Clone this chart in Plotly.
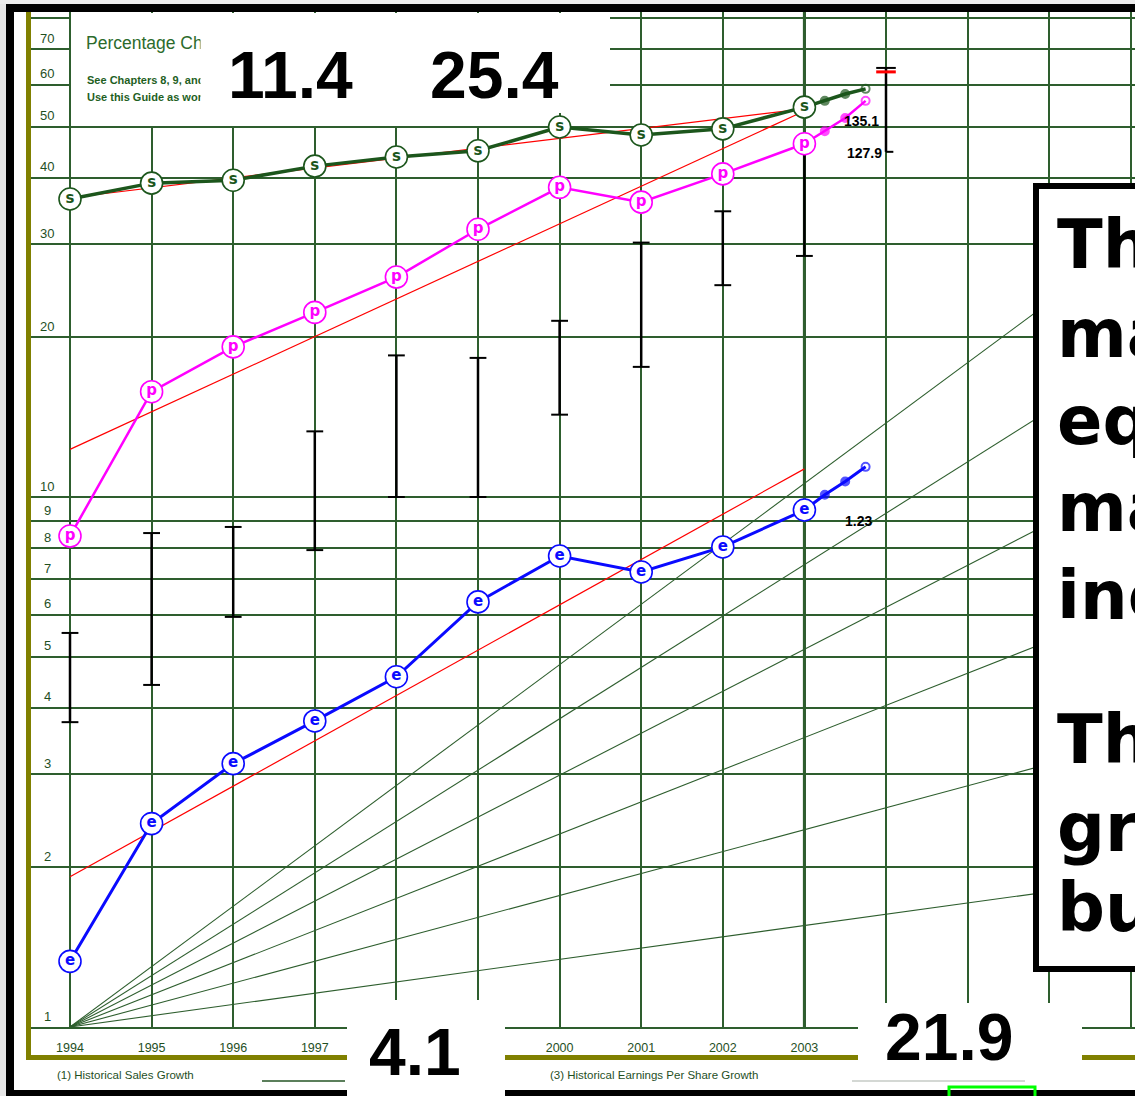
import math
import plotly.graph_objects as go

# ---------------- data ----------------
years = [1994, 1995, 1996, 1997, 1998, 1999, 2000, 2001, 2002, 2003]
sales = [36.5, 39.1, 39.6, 42.1, 43.8, 45.0, 49.9, 48.2, 49.5, 54.4]
pretax = [8.44, 15.8, 19.2, 22.3, 26.0, 32.0, 38.4, 36.0, 40.7, 46.4]
eps = [1.33, 2.42, 3.14, 3.78, 4.58, 6.34, 7.74, 7.22, 8.05, 9.45]
price_high = [5.54, 8.55, 8.78, 13.3, 18.5, 18.3, 21.5, 30.2, 34.6, 45.7]
price_low = [3.76, 4.42, 5.94, 7.94, 10.0, 10.0, 14.3, 17.6, 25.1, 28.5]

proj_x = [2003, 2003.25, 2003.5, 2003.75]
sales_proj = [54.4, 55.9, 57.6, 58.9]
pretax_proj = [46.4, 49.0, 51.9, 55.9]
eps_proj = [9.45, 10.1, 10.7, 11.4]

trend_x = [1994, 2003]
sales_trend = [36.7, 54.0]
pretax_trend = [12.3, 53.5]
eps_trend = [1.92, 11.3]

current_x = [2004]
current_high = [64.5]
current_red = [63.4]
current_low = [44.8]

ray_x = [1994, 2007]
ray_start = 1.0
ray_end_2007 = [30.3, 18.2, 10.7, 6.15, 3.45, 1.89]

y_ticks = [1, 2, 3, 4, 5, 6, 7, 8, 9, 10, 20, 30, 40, 50, 60, 70, 80]
y_tick_labels = [1, 2, 3, 4, 5, 6, 7, 8, 9, 10, 20, 30, 40, 50, 60, 70]
x_ticks = list(range(1994, 2008))
x_hidden = [1998, 1999, 2004, 2005, 2006]   # labels covered by the white number boxes

big_numbers = ["11.4", "25.4", "4.1", "21.9"]
value_labels = ["135.1", "127.9", "1.23"]
side_lines = ["The", "make", "equ", "mar", "inc", "The", "gro", "bui"]

# ---------------- layout geometry ----------------
FIG_W, FIG_H = 1135, 1096
L, R, T, B = 30, 0, 12, 69
PW = FIG_W - L - R
PH = FIG_H - T - B
PX_PER_YEAR = 81.6
X0 = 1994 - (70 - L) / PX_PER_YEAR
X1 = X0 + PW / PX_PER_YEAR
PX_PER_DECADE = 530.0
Y_TOP = PH / PX_PER_DECADE


def fx(px):
    return (px - L) / PW


def fy(py):
    return (T + PH - py) / PH


GRID = "#2e5e2e"
DKGREEN = "#1c561c"
TXTGREEN = "#1f4f1f"
MAGENTA = "#ff00ff"
BLUE = "#0a0aff"
OLIVE = "#808000"

fig = go.Figure()

# growth-rate rays
for v in ray_end_2007:
    fig.add_trace(go.Scatter(x=ray_x, y=[ray_start, v], mode="lines",
                             line=dict(color=GRID, width=1.1), hoverinfo="skip"))

# red trend lines
for tr in (sales_trend, pretax_trend, eps_trend):
    fig.add_trace(go.Scatter(x=trend_x, y=tr, mode="lines",
                             line=dict(color="#ff0000", width=1.2), hoverinfo="skip"))

# price high-low bars
bx, by = [], []
for yr, hi, lo in zip(years, price_high, price_low):
    bx += [yr, yr, None]
    by += [hi, lo, None]
fig.add_trace(go.Scatter(x=bx, y=by, mode="lines", line=dict(color="black", width=2.5)))
fig.add_trace(go.Scatter(x=years + years, y=price_high + price_low, mode="markers",
                         marker=dict(symbol="line-ew", size=12,
                                     line=dict(color="black", width=2))))

# current price range
fig.add_trace(go.Scatter(x=current_x * 2, y=current_high + current_low, mode="lines",
                         line=dict(color="black", width=2.5)))
fig.add_trace(go.Scatter(x=[current_x[0], current_x[0] + 0.09], y=current_low * 2,
                         mode="lines", line=dict(color="black", width=2)))
fig.add_trace(go.Scatter(x=current_x, y=current_high, mode="markers",
                         marker=dict(symbol="line-ew", size=14, line=dict(color="black", width=2))))
fig.add_trace(go.Scatter(x=current_x, y=current_red, mode="markers",
                         marker=dict(symbol="line-ew", size=14, line=dict(color="#ff0000", width=3))))


def series(vals, proj, color, letter, lw):
    fig.add_trace(go.Scatter(x=proj_x, y=proj, mode="lines+markers",
                             line=dict(color=color, width=lw),
                             marker=dict(symbol=["circle", "circle", "circle", "circle-open"],
                                         size=[0, 8, 8, 8], color=color,
                                         line=dict(color=color, width=2))))
    fig.add_trace(go.Scatter(x=years, y=vals, mode="lines+markers+text",
                             line=dict(color=color, width=lw),
                             marker=dict(symbol="circle", size=22, color="white",
                                         line=dict(color=color, width=1.6)),
                             text=[letter] * len(years), textposition="middle center",
                             textfont=dict(family="DejaVu Sans", size=15, color=color,
                                           weight="bold")))


series(sales, sales_proj, DKGREEN, "s", 3.5)
series(pretax, pretax_proj, MAGENTA, "p", 2.5)
series(eps, eps_proj, BLUE, "e", 3)

# ---------------- shapes ----------------
shapes = []


def rect(x0, y0, x1, y1, fill="rgba(0,0,0,0)", lc="rgba(0,0,0,0)", lw=0, layer="above"):
    return dict(type="rect", xref="paper", yref="paper", x0=fx(x0), x1=fx(x1),
                y0=fy(y1), y1=fy(y0), fillcolor=fill, line=dict(color=lc, width=lw),
                layer=layer)


def hline(x0, x1, y, color, w):
    return dict(type="line", xref="paper", yref="paper", x0=fx(x0), x1=fx(x1),
                y0=fy(y), y1=fy(y), line=dict(color=color, width=w), layer="above")


shapes.append(dict(type="line", xref="x", yref="paper", x0=2003, x1=2003, y0=0, y1=1,
                   line=dict(color="#1a4a1a", width=3), layer="below"))
# header panel (white, hides the grid) split so the plotted markers stay visible
shapes.append(rect(71, 13, 610, 113, fill="white"))
shapes.append(rect(71, 113, 520, 126, fill="white"))
shapes.append(rect(0, 0, 6, FIG_H, fill="#e6e6e6"))
shapes.append(rect(0, 0, FIG_W, 4, fill="#ececec"))
shapes.append(rect(6, 4, 14, FIG_H, fill="black"))
shapes.append(rect(6, 4, FIG_W, 12, fill="black"))
shapes.append(rect(6, 1090, FIG_W, FIG_H, fill="black"))
shapes.append(rect(26, 12, 31, 1060, fill=OLIVE))
shapes.append(rect(26, 1055, FIG_W, 1060, fill=OLIVE))
shapes.append(hline(262, 345, 1081, "#5b7f5b", 2))
shapes.append(hline(852, 1025, 1081, "#d4d8d4", 2))
shapes.append(rect(347, 1000, 505, FIG_H, fill="white"))
shapes.append(rect(858, 1003, 1082, 1078, fill="white"))
shapes.append(rect(949, 1087, 1035, 1102, lc="#00ff00", lw=3))
shapes.append(rect(1036, 186, 1150, 969, fill="white", lc="black", lw=6))

# ---------------- annotations ----------------
ann = []
for v in y_tick_labels:
    ann.append(dict(xref="paper", yref="y", x=fx(47), y=math.log10(v), yshift=11,
                    text=str(v), showarrow=False, xanchor="center", yanchor="middle",
                    font=dict(family="Liberation Sans", size=13, color=TXTGREEN)))

ann.append(dict(xref="paper", yref="paper", x=fx(84), y=fy(43), text="Percentage Change",
                showarrow=False, xanchor="left", yanchor="middle",
                font=dict(family="Liberation Sans", size=17.5, color="#2c6b2c")))
ann.append(dict(xref="paper", yref="paper", x=fx(85), y=fy(80), text="See Chapters 8, 9, and",
                showarrow=False, xanchor="left", yanchor="middle",
                font=dict(family="Liberation Sans", size=11, color="#1f5f1f", weight="bold")))
ann.append(dict(xref="paper", yref="paper", x=fx(85), y=fy(97), text="Use this Guide as work",
                showarrow=False, xanchor="left", yanchor="middle",
                font=dict(family="Liberation Sans", size=11, color="#1f5f1f", weight="bold")))
# white overlay panel over the header text
ann.append(dict(xref="paper", yref="paper", x=fx(200), y=fy(20), text=" ",
                showarrow=False, xanchor="left", yanchor="top", width=360, height=88,
                bgcolor="white", borderpad=0))

big_pos = [(290, 75), (494, 75), (415, 1052), (949, 1037)]
for t, (px, py) in zip(big_numbers, big_pos):
    ann.append(dict(xref="paper", yref="paper", x=fx(px), y=fy(py), text=t,
                    showarrow=False, xanchor="center", yanchor="middle",
                    font=dict(family="Liberation Sans", size=66, color="black", weight="bold")))

val_pos = [(881, 121), (884, 153), (874, 521)]
for t, (px, py) in zip(value_labels, val_pos):
    ann.append(dict(xref="paper", yref="paper", x=fx(px), y=fy(py), text=t,
                    showarrow=False, xanchor="right", yanchor="middle",
                    font=dict(family="Liberation Sans", size=14, color="black", weight="bold")))

ann.append(dict(xref="paper", yref="paper", x=fx(55), y=fy(1075),
                text="(1) Historical Sales Growth", showarrow=False, xanchor="left",
                yanchor="middle", font=dict(family="Liberation Sans", size=11.5,
                                            color=TXTGREEN)))
ann.append(dict(xref="paper", yref="paper", x=fx(548), y=fy(1075),
                text="(3) Historical Earnings Per Share Growth", showarrow=False,
                xanchor="left", yanchor="middle",
                font=dict(family="Liberation Sans", size=11.5, color=TXTGREEN)))

side_y = [245, 334, 421, 508, 596, 740, 828, 908]
for t, py in zip(side_lines, side_y):
    ann.append(dict(xref="paper", yref="paper", x=fx(1055), y=fy(py), text=t,
                    showarrow=False, xanchor="left", yanchor="middle",
                    font=dict(family="DejaVu Sans", size=67, color="black", weight="bold")))

fig.update_layout(
    width=FIG_W, height=FIG_H,
    margin=dict(l=L, r=R, t=T, b=B, pad=0),
    paper_bgcolor="white", plot_bgcolor="white",
    showlegend=False,
    shapes=shapes, annotations=ann,
    xaxis=dict(range=[X0, X1], tickvals=x_ticks,
               ticktext=["" if v in x_hidden else str(v) for v in x_ticks],
               showgrid=True, gridcolor=GRID, gridwidth=1.5, zeroline=False,
               showline=True, linecolor=GRID, linewidth=2, mirror=True,
               ticks="", ticklabelstandoff=8, automargin=False,
               tickfont=dict(family="Liberation Sans", size=12.5, color=TXTGREEN)),
    yaxis=dict(type="log", range=[0, Y_TOP], tickvals=y_ticks, showticklabels=False,
               showgrid=True, gridcolor=GRID, gridwidth=1.5, zeroline=False,
               showline=False, ticks="", automargin=False),
)

fig.write_html("out.html", config={"displayModeBar": False},
               post_script="document.body.style.margin='0px';")
